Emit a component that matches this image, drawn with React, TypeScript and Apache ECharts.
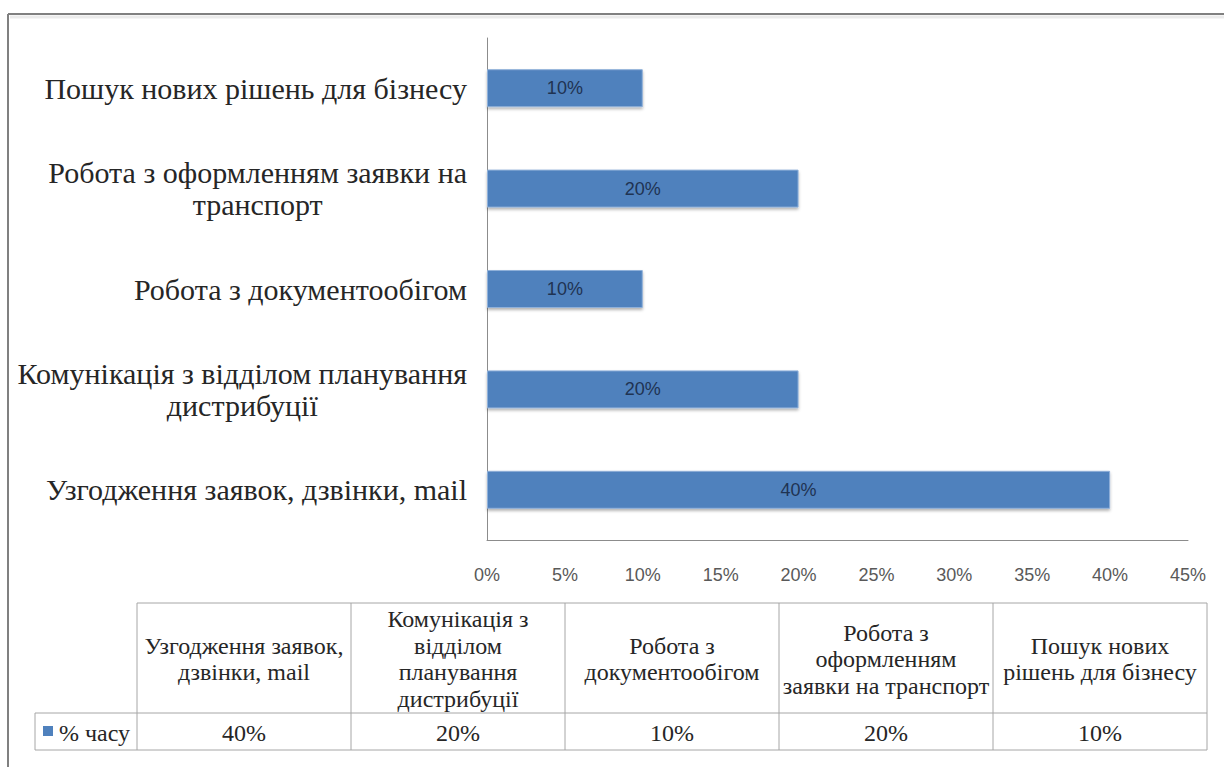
import React, { useEffect, useRef } from "react";
import * as echarts from "echarts";

// ---- data ----
const categories = [
  "Узгодження заявок, дзвінки, mail",
  "Комунікація з відділом планування\nдистрибуції",
  "Робота з документообігом",
  "Робота з оформленням заявки на\nтранспорт",
  "Пошук нових рішень для бізнесу",
];
const tableHeaders = [
  "Узгодження заявок,\nдзвінки, mail",
  "Комунікація з\nвідділом\nпланування\nдистрибуції",
  "Робота з\nдокументообігом",
  "Робота з\nоформленням\nзаявки на транспорт",
  "Пошук нових\nрішень для бізнесу",
];
const seriesName = "% часу";
const shareOfTime = [40, 20, 10, 20, 10];
const axisMin = 0;
const axisMax = 45;
const axisStep = 5;

const BAR_COLOR = "#4f81bd";
const SERIF = "Liberation Serif";
const SANS = "Liberation Sans";

export default function App() {
  const ref = useRef<HTMLDivElement>(null);

  useEffect(() => {
    if (!ref.current) return;
    const chart = echarts.init(ref.current, null, { renderer: "svg" });

    const tLeft = 137;
    const colW = 214;
    const tTop = 603;
    const tMid = 713;
    const tBot = 750;
    const legLeft = 35;
    const lineColor = "#a6a6a6";
    const tRight = tLeft + colW * tableHeaders.length;

    const graphics: any[] = [];
    graphics.push({
      type: "line",
      shape: { x1: 8, y1: 14, x2: 1230, y2: 14 },
      style: { stroke: "#808080", lineWidth: 2 },
    });
    graphics.push({
      type: "line",
      shape: { x1: 8, y1: 14, x2: 8, y2: 770 },
      style: { stroke: "#808080", lineWidth: 2 },
    });
    graphics.push({
      type: "line",
      shape: { x1: 10, y1: 17, x2: 1230, y2: 17 },
      style: { stroke: "#ebebeb", lineWidth: 3 },
    });

    const hl = (x1: number, x2: number, y: number) =>
      graphics.push({
        type: "line",
        shape: { x1, y1: y, x2, y2: y },
        style: { stroke: lineColor, lineWidth: 1 },
      });
    const vl = (x: number, y1: number, y2: number) =>
      graphics.push({
        type: "line",
        shape: { x1: x, y1, x2: x, y2 },
        style: { stroke: lineColor, lineWidth: 1 },
      });
    hl(tLeft, tRight, tTop);
    hl(legLeft, tRight, tMid);
    hl(legLeft, tRight, tBot);
    vl(legLeft, tMid, tBot);
    for (let i = 0; i <= tableHeaders.length; i++) {
      vl(tLeft + colW * i, tTop, tBot);
    }
    tableHeaders.forEach((h, i) => {
      const cx = tLeft + colW * i + colW / 2;
      graphics.push({
        type: "text",
        x: cx,
        y: (tTop + tMid) / 2 + 1,
        style: {
          text: h,
          fill: "#262626",
          fontFamily: SERIF,
          fontSize: 24,
          align: "center",
          verticalAlign: "middle",
          lineHeight: 26.5,
        },
      });
      graphics.push({
        type: "text",
        x: cx,
        y: (tMid + tBot) / 2 + 1,
        style: {
          text: shareOfTime[i] + "%",
          fill: "#262626",
          fontFamily: SERIF,
          fontSize: 24,
          align: "center",
          verticalAlign: "middle",
        },
      });
    });
    graphics.push({
      type: "rect",
      shape: { x: 43, y: 726, width: 10, height: 10 },
      style: { fill: BAR_COLOR },
    });
    graphics.push({
      type: "text",
      x: 59,
      y: (tMid + tBot) / 2 + 1,
      style: {
        text: seriesName,
        fill: "#262626",
        fontFamily: SERIF,
        fontSize: 24,
        align: "left",
        verticalAlign: "middle",
      },
    });

    chart.setOption({
      animation: false,
      backgroundColor: "#ffffff",
      grid: { left: 487, right: 36, top: 38, bottom: 227 },
      xAxis: {
        type: "value",
        min: axisMin,
        max: axisMax,
        interval: axisStep,
        axisLine: { show: true, lineStyle: { color: "#8c8c8c", width: 1 } },
        axisTick: { show: false },
        splitLine: { show: false },
        axisLabel: {
          formatter: "{value}%",
          color: "#595959",
          fontFamily: SANS,
          fontSize: 18,
          margin: 26,
        },
      },
      yAxis: {
        type: "category",
        data: categories,
        axisLine: { show: true, lineStyle: { color: "#8c8c8c", width: 1 } },
        axisTick: { show: false },
        splitLine: { show: false },
        axisLabel: {
          margin: 20,
          align: "right",
          fontFamily: SERIF,
          fontSize: 30,
          color: "#262626",
          formatter: (v: string) =>
            v
              .split("\n")
              .map((s) => `{c|${s}}`)
              .join("\n"),
          rich: {
            c: {
              align: "center",
              fontFamily: SERIF,
              fontSize: 30,
              lineHeight: 32,
              color: "#262626",
            },
          },
        },
      },
      series: [
        {
          name: seriesName,
          type: "bar",
          data: shareOfTime,
          barWidth: 38,
          itemStyle: {
            color: BAR_COLOR,
            borderColor: "#8fb0d9",
            borderWidth: 1,
            shadowBlur: 3,
            shadowOffsetY: 2,
            shadowColor: "rgba(0,0,0,0.3)",
          },
          label: {
            show: true,
            position: "inside",
            formatter: "{c}%",
            color: "#1f3352",
            fontFamily: SANS,
            fontSize: 18,
          },
        },
      ],
      graphic: graphics,
    });

    return () => chart.dispose();
  }, []);

  return (
    <div
      ref={ref}
      style={{ position: "fixed", left: 0, top: 0, width: 1224, height: 767, background: "#fff" }}
    />
  );
}
